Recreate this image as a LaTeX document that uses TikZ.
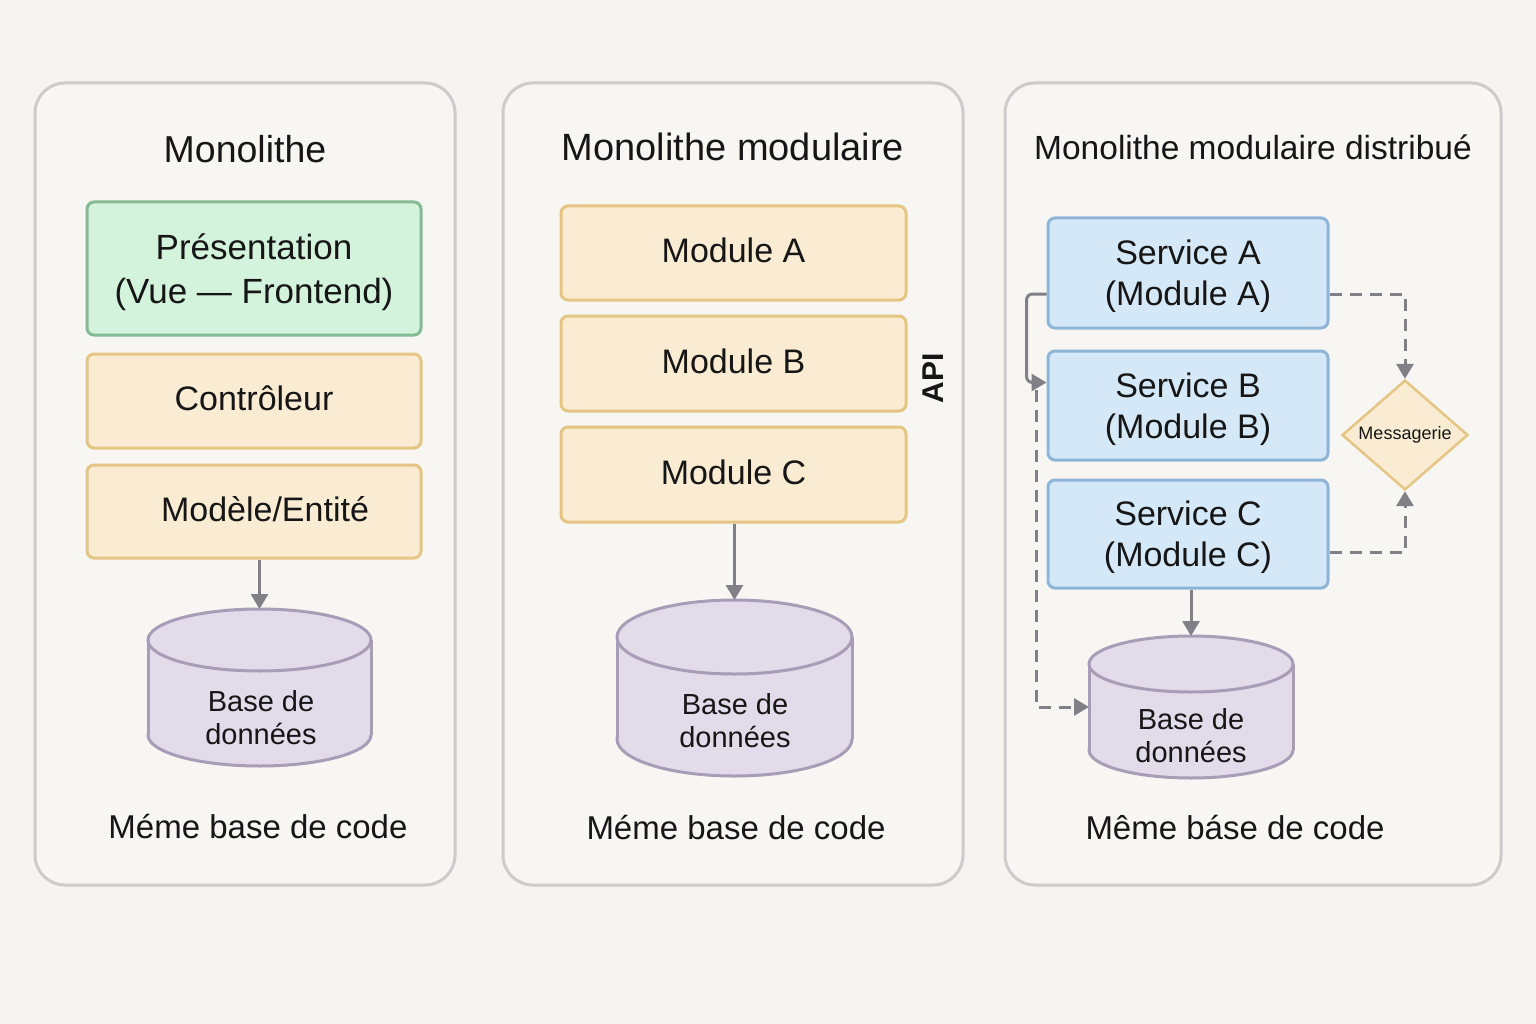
\documentclass[tikz,border=0pt]{standalone}
\usepackage{fontspec}
\setmainfont{Liberation Sans}
\usetikzlibrary{shapes.geometric,arrows.meta}
\definecolor{bgcol}{RGB}{245,244,240}
\definecolor{panelfill}{RGB}{247,246,243}
\definecolor{panelline}{RGB}{204,204,204}
\definecolor{ink}{RGB}{22,22,22}
\definecolor{greenfill}{RGB}{212,243,220}
\definecolor{greenline}{RGB}{132,186,148}
\definecolor{yellowfill}{RGB}{250,236,211}
\definecolor{yellowline}{RGB}{229,197,131}
\definecolor{bluefill}{RGB}{212,232,247}
\definecolor{blueline}{RGB}{142,181,216}
\definecolor{dbfill}{RGB}{226,219,233}
\definecolor{dbline}{RGB}{167,157,182}
\definecolor{arrowgray}{RGB}{128,128,134}
\begin{document}
\begin{tikzpicture}[x=1pt,y=-1pt,>={Triangle[length=15pt,width=17pt]},text=ink,
    panel/.style={draw=panelline,fill=panelfill,line width=3pt,rounded corners=30pt},
    box/.style={draw,line width=3pt,rounded corners=7pt,align=center,inner sep=0pt,font=\fontsize{34}{41}\selectfont},
    greenbox/.style={box,draw=greenline,fill=greenfill,text depth=0pt},
    yellowbox/.style={box,draw=yellowline,fill=yellowfill,minimum height=94pt,text depth=5pt},
    bluebox/.style={box,draw=blueline,fill=bluefill,minimum width=280pt,minimum height=109pt,text depth=0pt},
    dbbox/.style={inner sep=0pt,outer sep=0pt},
    dbshape/.style={draw=dbline,fill=dbfill,line width=3pt},
    dbtext/.style={anchor=base,align=center,font=\fontsize{29}{33}\selectfont},
    title/.style={anchor=base,font=\fontsize{37.5}{44}\selectfont},
    foot/.style={anchor=base,font=\fontsize{33}{40}\selectfont},
    conn/.style={->,draw=arrowgray,line width=3pt},
    dashconn/.style={conn,dash pattern=on 12pt off 8pt}]
\fill[bgcol] (0,0) rectangle (1536,1024);
\useasboundingbox (0,0) rectangle (1536,1024);
\node[panel,minimum width=420pt,minimum height=802pt] (mono) at (245,484) {};
\node[panel,minimum width=460pt,minimum height=802pt] (modmono) at (733,484) {};
\node[panel,minimum width=496pt,minimum height=802pt] (distmono) at (1253,484) {};
\node[dbbox,minimum width=223pt,minimum height=157pt] (db1) at (259.5,687.5) {};
\node[dbbox,minimum width=235pt,minimum height=176pt] (db2) at (734.5,688) {};
\node[dbbox,minimum width=204pt,minimum height=142pt] (db3) at (1191,707) {};
\foreach \db/\rx/\ry in {db1/111.5/31,db2/117.5/37,db3/102/28}{
  \filldraw[dbshape] ([yshift=\ry pt]\db.south) ellipse [x radius=\rx pt,y radius=\ry pt];
  \fill[dbfill] ([yshift=-\ry pt]\db.north west) rectangle ([yshift=\ry pt]\db.south east);
  \draw[dbshape] ([yshift=-\ry pt]\db.north west) -- ([yshift=\ry pt]\db.south west)
    ([yshift=-\ry pt]\db.north east) -- ([yshift=\ry pt]\db.south east);
  \filldraw[dbshape] ([yshift=-\ry pt]\db.north) ellipse [x radius=\rx pt,y radius=\ry pt];
}
\node[title] (monotitle) at (245,163) {Monolithe};
\node[greenbox,minimum width=334pt,minimum height=133pt,font=\fontsize{35}{44}\selectfont] (pres) at (254,268.5) {Présentation\\(Vue — Frontend)};
\node[yellowbox,minimum width=334pt] (ctrl) at (254,401) {Contrôleur};
\node[yellowbox,minimum width=334pt,minimum height=93pt] (model) at (254,511.5) {\hspace{22pt}Modèle/Entité};
\node[dbtext] (db1txt) at (261,744) {Base de\\données};
\node[foot] (foot1) at (258,838) {Méme base de code};
\draw[conn] (db1.north |- model.south) -- (db1.north);
\node[title,font=\fontsize{38}{44}\selectfont] (modtitle) at (733,161) {Monolithe modulaire};
\node[yellowbox,minimum width=345pt] (modA) at (733.5,253) {Module A};
\node[yellowbox,minimum width=345pt,minimum height=95pt] (modB) at (733.5,363.5) {Module B};
\node[yellowbox,minimum width=345pt,minimum height=95pt] (modC) at (733.5,474.5) {Module C};
\node[rotate=90,font=\fontsize{30}{36}\selectfont\bfseries] (api) at (933,378) {API};
\node[dbtext] (db2txt) at (735,747) {Base de\\données};
\node[foot] (foot2) at (736,839) {Méme base de code};
\draw[conn] (db2.north |- modC.south) -- (db2.north);
\node[title,font=\fontsize{33.5}{40}\selectfont] (disttitle) at (1253,160) {Monolithe modulaire distribué};
\node[bluebox,minimum height=110pt] (svcA) at (1188,273) {Service A\\(Module A)};
\node[bluebox] (svcB) at (1188,405.5) {Service B\\(Module B)};
\node[bluebox,minimum height=108pt] (svcC) at (1188,534) {Service C\\(Module C)};
\node[diamond,draw=yellowline,fill=yellowfill,line width=2.5pt,inner sep=0pt,minimum width=126pt,minimum height=104pt,font=\fontsize{18}{21}\selectfont] (msg) at (1405,435) {Messagerie};
\node[dbtext] (db3txt) at (1191,762) {Base de\\données};
\node[foot] (foot3) at (1235,839) {Même báse de code};
\coordinate (busstart) at (1036,390);
\draw[conn] (db3.north |- svcC.south) -- (db3.north);
\draw[conn,rounded corners=6pt] ([yshift=-21pt]svcA.west) -- ++(-20,0) |- ([yshift=23pt]svcB.west);
\draw[dashconn] (busstart) |- (db3.west);
\draw[dashconn] ([yshift=-21pt]svcA.east) -| (msg.north);
\draw[dashconn] ([yshift=-18pt]svcC.east) -| (msg.south);
\end{tikzpicture}
\end{document}
